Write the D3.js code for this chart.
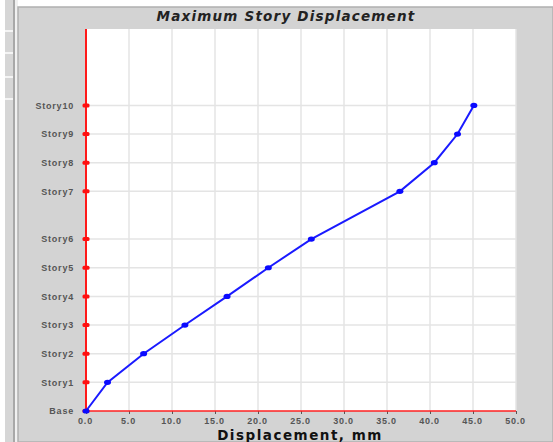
<!DOCTYPE html>
<html>
<head>
<meta charset="utf-8">
<script src="https://cdn.jsdelivr.net/npm/d3@7"></script>
<style>
	body { margin: 0; background: #fff; }
	svg { display: block; font-family: "DejaVu Sans", Verdana, sans-serif; }
</style>
</head>
<body>
<svg id="chart" width="553" height="442"></svg>
<script>
"use strict";

// Story names, their elevations (m) and the max displacement (mm)
var stories = ["Base", "Story1", "Story2", "Story3", "Story4", "Story5",
	"Story6", "Story7", "Story8", "Story9", "Story10"];
var elevations = [0, 3, 6, 9, 12, 15, 18, 23, 26, 29, 32];
var displacements = [0, 2.5, 6.7, 11.5, 16.4, 21.2, 26.2, 36.5, 40.5, 43.2, 45.1];
var xTicks = [0, 5, 10, 15, 20, 25, 30, 35, 40, 45, 50];

var svg = d3.select('#chart');

// Window chrome on the left side
svg.append('rect').attr('x', 5).attr('y', 0).attr('width', 8).attr('height', 442).style('fill', '#d6d6d6');
[30, 52, 76, 98].forEach(function(y) {
	svg.append('rect').attr('x', 5).attr('y', y).attr('width', 8).attr('height', 2).style('fill', '#f4f4f4');
});
svg.append('rect').attr('x', 13).attr('y', 0).attr('width', 2).attr('height', 442).style('fill', '#a8a8a8');
svg.append('rect').attr('x', 15).attr('y', 0).attr('width', 3).attr('height', 442).style('fill', '#f0f0f0');

// Chart panel
svg.append('rect').attr('x', 18).attr('y', 7).attr('width', 535).attr('height', 435).
	style('fill', '#d3d3d3').style('stroke', '#b0b0b0').style('stroke-width', 1.5);

var plot = { x0: 86, x1: 516, y0: 29, y1: 411 };

var x = d3.scaleLinear().domain([0, 50]).range([plot.x0, plot.x1]);
var y = d3.scaleLinear().domain([0, 40]).range([plot.y1, plot.y0]);

// Plot background
svg.append('rect').attr('x', plot.x0).attr('y', plot.y0).
	attr('width', plot.x1 - plot.x0).attr('height', plot.y1 - plot.y0).style('fill', '#fff');

// Grid lines
svg.append('g').selectAll('line').data(xTicks.slice(1)).join('line').
	attr('x1', d => x(d)).attr('x2', d => x(d)).attr('y1', plot.y0).attr('y2', plot.y1).
	style('stroke', '#e4e4e4').style('stroke-width', 1.5);
svg.append('g').selectAll('line').data(elevations.slice(1)).join('line').
	attr('x1', plot.x0).attr('x2', plot.x1).attr('y1', d => y(d)).attr('y2', d => y(d)).
	style('stroke', '#e4e4e4').style('stroke-width', 1.5);

// Bottom axis
var xAxis = d3.axisBottom(x).tickValues(xTicks).tickFormat(d3.format('.1f')).tickSize(3).tickPadding(4);
var gx = svg.append('g').attr('transform', 'translate(0,' + plot.y1 + ')').call(xAxis);
gx.select('.domain').remove();
gx.selectAll('.tick line').style('stroke', '#555');
gx.selectAll('.tick text').style('fill', '#555').style('font-size', '9px').
	style('font-weight', 'bold').style('letter-spacing', '0.8px').attr('dx', -1);
svg.append('line').attr('x1', plot.x0).attr('x2', plot.x1).attr('y1', plot.y1).attr('y2', plot.y1).
	style('stroke', '#ff2020').style('stroke-width', 1.5);

// Left axis with story names
var yAxis = d3.axisLeft(y).tickValues(elevations).tickFormat((d, i) => stories[i]).tickSize(0).tickPadding(12);
var gy = svg.append('g').attr('transform', 'translate(' + plot.x0 + ',0)').call(yAxis);
gy.select('.domain').remove();
gy.selectAll('.tick text').style('fill', '#555').style('font-size', '9px').
	style('font-weight', 'bold').style('letter-spacing', '0.8px');
svg.append('line').attr('x1', plot.x0).attr('x2', plot.x0).attr('y1', plot.y0).attr('y2', plot.y1).
	style('stroke', '#ff1a1a').style('stroke-width', 2);
svg.append('g').selectAll('rect').data(elevations).join('rect').
	attr('x', plot.x0 - 3.5).attr('y', d => y(d) - 2).attr('width', 7).attr('height', 4).
	attr('rx', 1.5).style('fill', '#ff1010');

// Displacement line
var pts = d3.zip(displacements, elevations);
svg.append('path').datum(pts).
	attr('d', d3.line().x(d => x(d[0])).y(d => y(d[1]))).
	style('fill', 'none').style('stroke', '#1a1aff').style('stroke-width', 2);
svg.append('g').selectAll('ellipse').data(pts).join('ellipse').
	attr('cx', d => x(d[0])).attr('cy', d => y(d[1])).attr('rx', 3.5).attr('ry', 2.6).
	style('fill', '#0a0aff');

// Titles
svg.append('text').attr('x', 286).attr('y', 21).attr('text-anchor', 'middle').
	style('font-size', '13.5px').style('font-weight', 'bold').style('font-style', 'italic').
	style('letter-spacing', '1.2px').style('fill', '#222').text('Maximum Story Displacement');
svg.append('text').attr('x', 300).attr('y', 440).attr('text-anchor', 'middle').
	style('font-size', '13.5px').style('font-weight', 'bold').style('letter-spacing', '1.5px').
	style('fill', '#111').text('Displacement, mm');
</script>
</body>
</html>
